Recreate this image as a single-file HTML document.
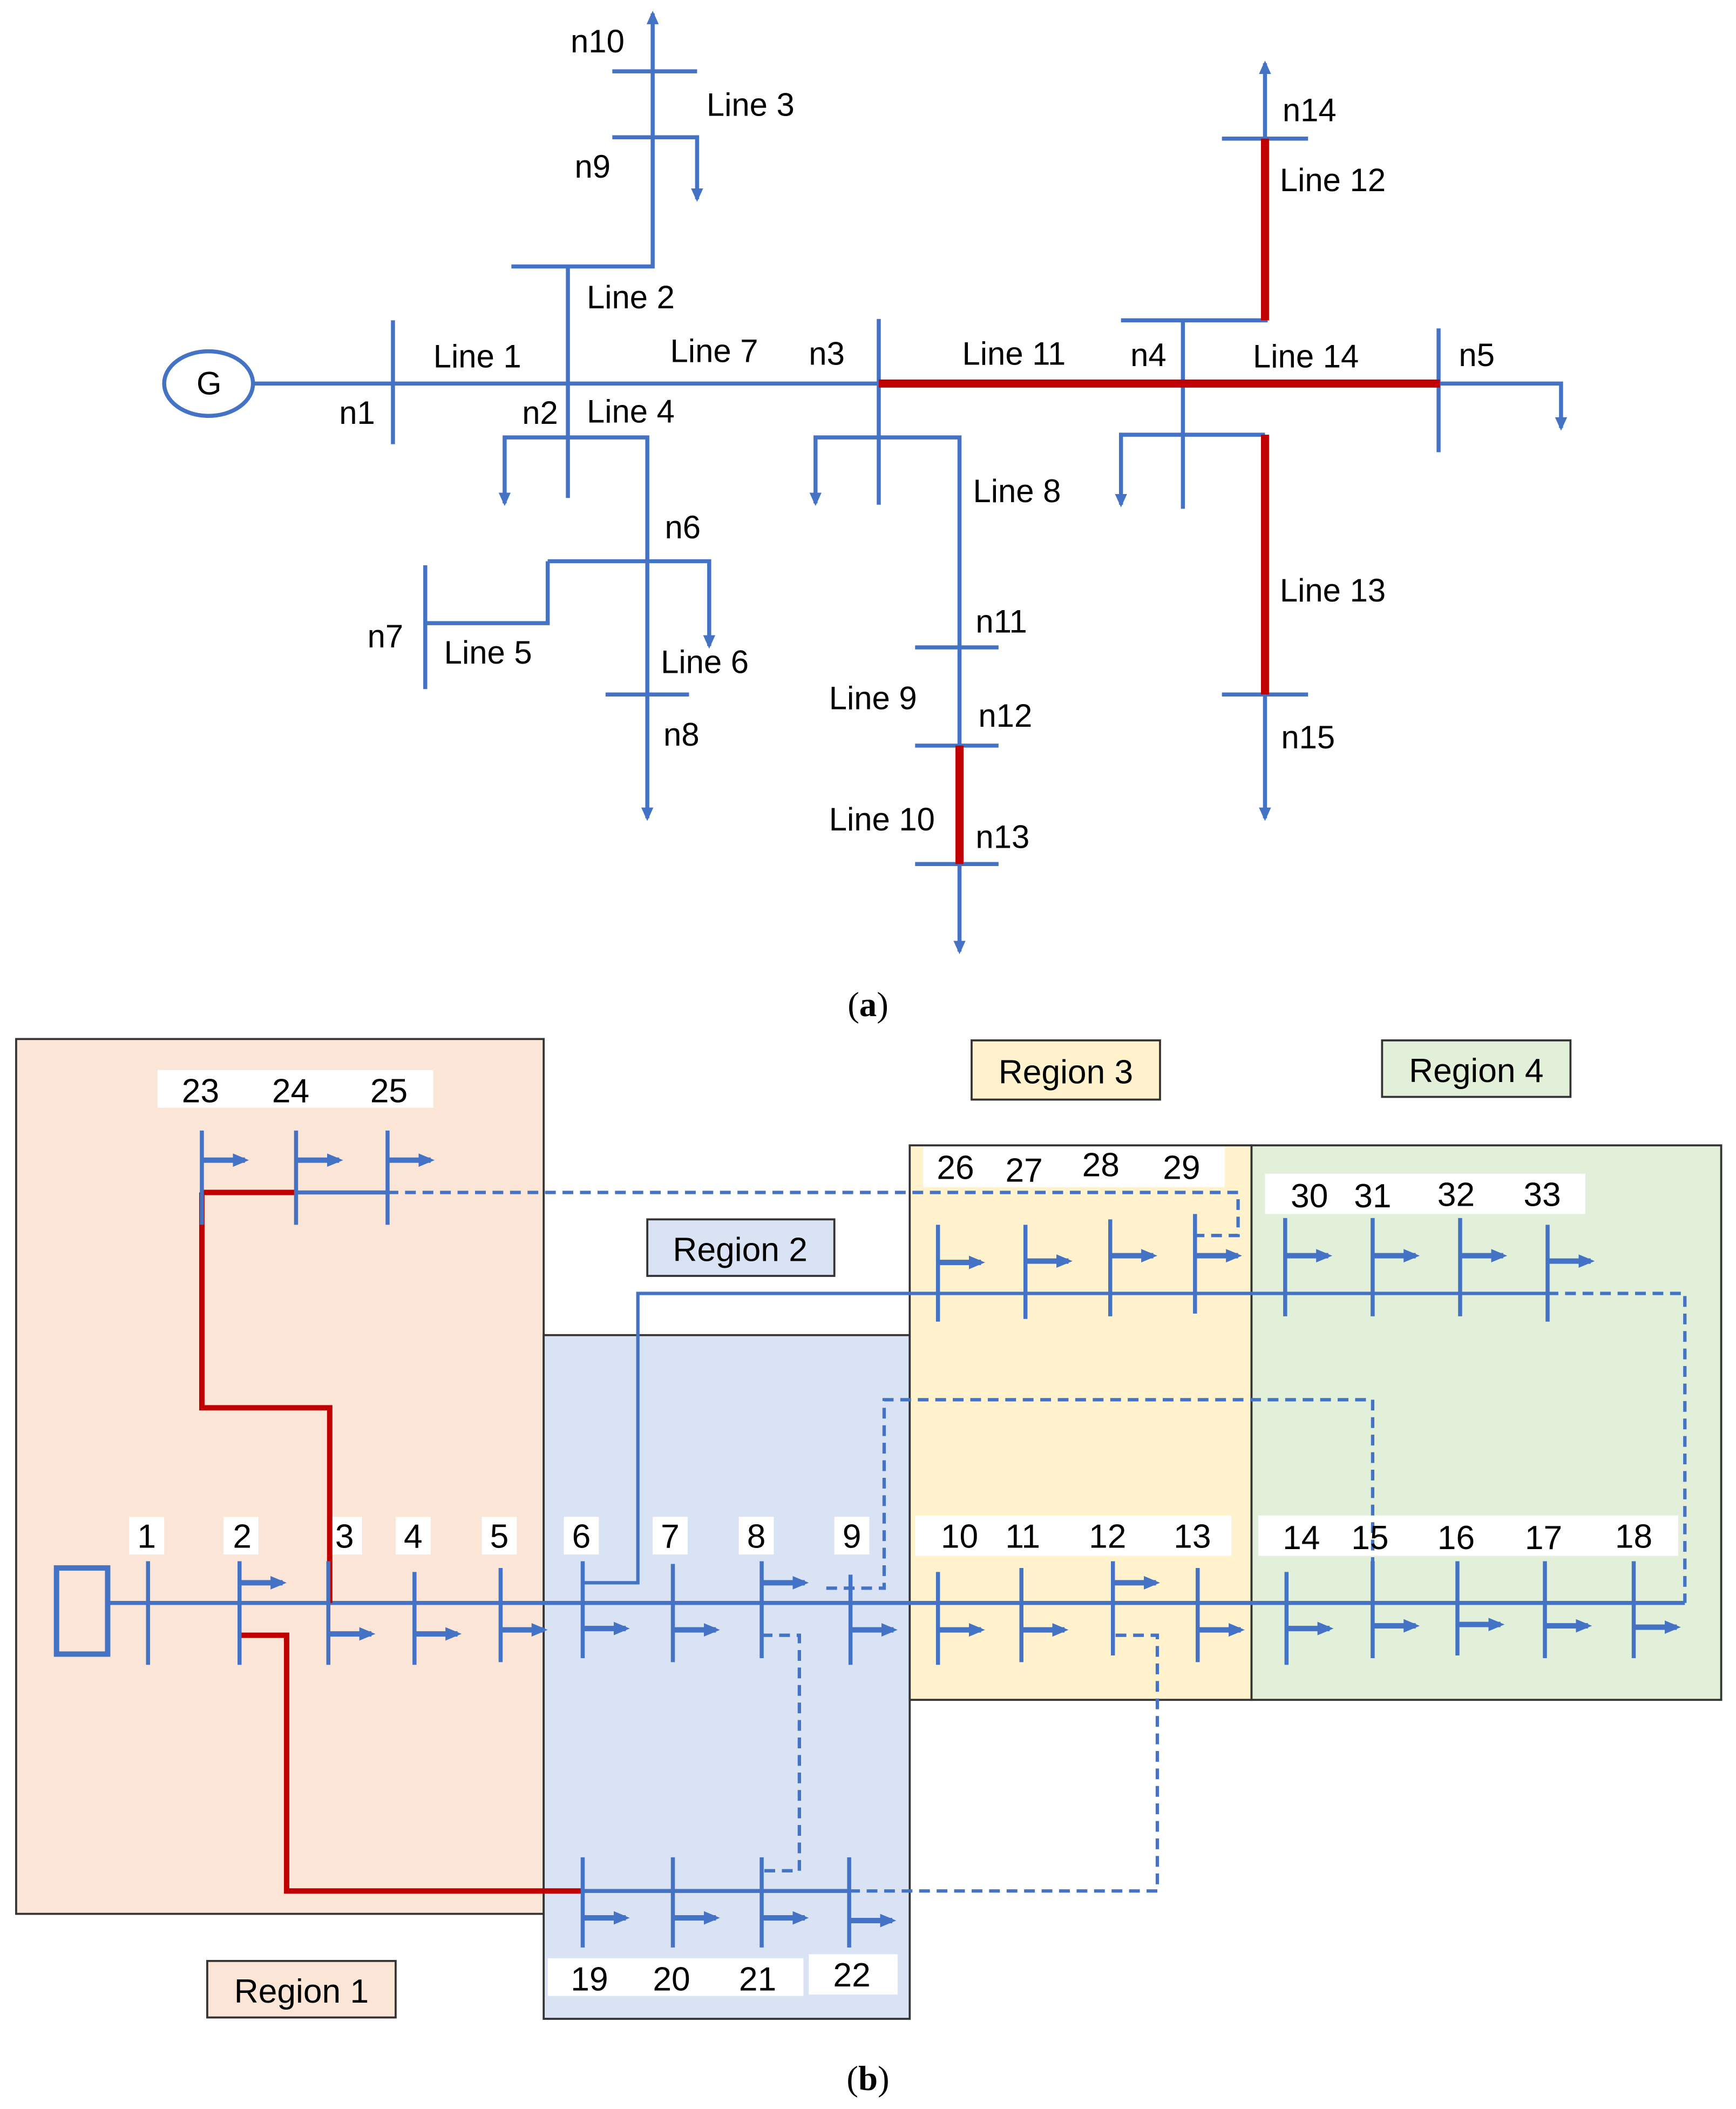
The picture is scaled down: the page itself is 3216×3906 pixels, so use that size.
<!DOCTYPE html>
<html><head><style>html,body{margin:0;padding:0;background:#fff}svg{display:block}</style></head><body>
<svg width="3216" height="3906" viewBox="0 0 1290 1567" preserveAspectRatio="none" xmlns="http://www.w3.org/2000/svg">
<defs>
<marker id="ar" markerWidth="10" markerHeight="10" refX="8" refY="5" orient="auto" markerUnits="userSpaceOnUse"><path d="M0,0.5 L10,5 L0,9.5 z" fill="#4472C4"/></marker>
<marker id="ls" markerWidth="12" markerHeight="12" refX="9" refY="6" orient="auto" markerUnits="userSpaceOnUse"><path d="M0,1 L12,6 L0,11 z" fill="#4472C4"/></marker>
</defs>
<g font-family="Liberation Sans, DejaVu Sans, sans-serif" font-size="24" fill="#000">
<!-- (a) -->
<g stroke="#4472C4" stroke-width="3" fill="none">
<ellipse cx="155" cy="285" rx="33" ry="24"/>
<line x1="188" y1="285" x2="653" y2="285"/>
<polyline points="1070,285 1160,285 1160,318" marker-end="url(#ar)"/>
<line x1="292" y1="238" x2="292" y2="330"/>
<line x1="422" y1="198" x2="422" y2="370"/>
<polyline points="380,198 485,198 485,10" marker-end="url(#ar)"/>
<line x1="455" y1="53" x2="518" y2="53"/>
<line x1="455" y1="102" x2="518" y2="102"/>
<polyline points="485,102 518,102 518,148" marker-end="url(#ar)"/>
<polyline points="422,325 375,325 375,374" marker-end="url(#ar)"/>
<polyline points="422,325 481,325 481,608" marker-end="url(#ar)"/>
<polyline points="407,417 527,417 527,480" marker-end="url(#ar)"/>
<polyline points="407,417 407,463 316,463"/>
<line x1="316" y1="420" x2="316" y2="512"/>
<line x1="450" y1="516" x2="512" y2="516"/>
<line x1="653" y1="237" x2="653" y2="375"/>
<polyline points="653,325 606,325 606,374" marker-end="url(#ar)"/>
<polyline points="653,325 713,325 713,707" marker-end="url(#ar)"/>
<line x1="680" y1="481" x2="742" y2="481"/>
<line x1="680" y1="554" x2="742" y2="554"/>
<line x1="680" y1="642" x2="742" y2="642"/>
<line x1="879" y1="237" x2="879" y2="378"/>
<line x1="833" y1="238" x2="942" y2="238"/>
<line x1="908" y1="103" x2="972" y2="103"/>
<polyline points="940,103 940,47" marker-end="url(#ar)"/>
<polyline points="879,323 833,323 833,375" marker-end="url(#ar)"/>
<line x1="879" y1="323" x2="940" y2="323"/>
<line x1="908" y1="516" x2="972" y2="516"/>
<polyline points="940,516 940,608" marker-end="url(#ar)"/>
<line x1="1069" y1="244" x2="1069" y2="336"/>
</g>
<g stroke="#C00000" stroke-width="6" fill="none">
<line x1="653" y1="285" x2="1070" y2="285"/>
<line x1="713" y1="554" x2="713" y2="642"/>
<line x1="940" y1="238" x2="940" y2="103"/>
<line x1="940" y1="323" x2="940" y2="516"/>
</g>
<text x="146" y="293">G</text>
<text x="424" y="39">n10</text><text x="525" y="86">Line 3</text><text x="427" y="132">n9</text>
<text x="436" y="229">Line 2</text><text x="322" y="273">Line 1</text><text x="252" y="315">n1</text>
<text x="388" y="315">n2</text><text x="436" y="314">Line 4</text><text x="498" y="269">Line 7</text>
<text x="601" y="271">n3</text><text x="715" y="271">Line 11</text><text x="840" y="272">n4</text>
<text x="931" y="273">Line 14</text><text x="1084" y="272">n5</text><text x="953" y="90">n14</text>
<text x="951" y="142">Line 12</text><text x="494" y="400">n6</text><text x="273" y="481">n7</text>
<text x="330" y="493">Line 5</text><text x="491" y="500">Line 6</text><text x="493" y="554">n8</text>
<text x="723" y="373">Line 8</text><text x="725" y="470">n11</text><text x="616" y="527">Line 9</text>
<text x="727" y="540">n12</text><text x="616" y="617">Line 10</text><text x="725" y="630">n13</text>
<text x="951" y="447">Line 13</text><text x="952" y="556">n15</text>
<text x="645" y="755" text-anchor="middle" font-family="Liberation Serif, serif" font-size="26">(<tspan font-weight="bold">a</tspan>)</text>

<!-- (b) regions -->
<g stroke="#333" stroke-width="1.5">
<rect x="12" y="772" width="392" height="650" fill="#FBE5D6"/>
<rect x="404" y="992" width="272" height="508" fill="#DAE3F3"/>
<rect x="676" y="851" width="254" height="412" fill="#FFF2CC"/>
<rect x="930" y="851" width="349" height="412" fill="#E2F0D9"/>
<rect x="722" y="773" width="140" height="44" fill="#FFF2CC"/>
<rect x="1027" y="773" width="140" height="42" fill="#E2F0D9"/>
<rect x="481" y="906" width="139" height="42" fill="#DAE3F3"/>
<rect x="154" y="1457" width="140" height="42" fill="#FBE5D6"/>
</g>
<text x="792" y="805" text-anchor="middle" font-size="25">Region 3</text>
<text x="1097" y="804" text-anchor="middle" font-size="25">Region 4</text>
<text x="550" y="937" text-anchor="middle" font-size="25">Region 2</text>
<text x="224" y="1488" text-anchor="middle" font-size="25">Region 1</text>
<g fill="#fff">
<rect x="117" y="795" width="205" height="28"/>
<rect x="686" y="852" width="224" height="30"/>
<rect x="940" y="872" width="238" height="30"/>
<rect x="96" y="1127" width="26" height="28"/><rect x="166" y="1127" width="26" height="28"/>
<rect x="243" y="1127" width="26" height="28"/><rect x="294" y="1127" width="26" height="28"/>
<rect x="358" y="1127" width="26" height="28"/><rect x="419" y="1127" width="26" height="28"/>
<rect x="485" y="1127" width="26" height="28"/><rect x="549" y="1127" width="26" height="28"/>
<rect x="620" y="1127" width="26" height="28"/>
<rect x="680" y="1126" width="235" height="30"/>
<rect x="935" y="1126" width="312" height="30"/>
<rect x="407" y="1455" width="190" height="28"/><rect x="601" y="1452" width="66" height="30"/>
</g>
<g stroke="#4472C4" stroke-width="3" fill="none">
<rect x="42" y="1165" width="38" height="64" stroke-width="4"/>
<line x1="81" y1="1191" x2="1252" y2="1191"/>
<line x1="220" y1="886" x2="288" y2="886"/>
<line x1="433" y1="1405" x2="631" y2="1405"/>
<polyline points="433,1176 474,1176 474,961 1150,961" stroke-width="2.5"/>
</g>
<g stroke="#4472C4" stroke-width="2.5" fill="none" stroke-dasharray="8,5">
<polyline points="1150,961 1252,961 1252,1191"/>
<polyline points="288,886 920,886 920,918 888,918"/>
<polyline points="631,1405 860,1405 860,1215 827,1215"/>
<polyline points="566,1215 594,1215 594,1390 566,1390"/>
<polyline points="614,1180 657,1180 657,1040 1020,1040 1020,1191"/>
</g>
<g stroke="#C00000" stroke-width="4" fill="none">
<line x1="150" y1="886" x2="220" y2="886"/>
<polyline points="150,886 150,1046 245,1046 245,1191"/>
<polyline points="178,1215 213,1215 213,1405 433,1405"/>
</g>
<g stroke="#4472C4" stroke-width="3" fill="none">
<line x1="110" y1="1160" x2="110" y2="1237"/>
<line x1="178" y1="1160" x2="178" y2="1237"/>
<line x1="244" y1="1160" x2="244" y2="1237"/>
<line x1="308" y1="1168" x2="308" y2="1237"/>
<line x1="372" y1="1165" x2="372" y2="1235"/>
<line x1="433" y1="1160" x2="433" y2="1232"/>
<line x1="500" y1="1162" x2="500" y2="1235"/>
<line x1="566" y1="1160" x2="566" y2="1232"/>
<line x1="632" y1="1170" x2="632" y2="1237"/>
<line x1="697" y1="1168" x2="697" y2="1237"/>
<line x1="759" y1="1165" x2="759" y2="1235"/>
<line x1="827" y1="1160" x2="827" y2="1230"/>
<line x1="890" y1="1165" x2="890" y2="1235"/>
<line x1="956" y1="1168" x2="956" y2="1237"/>
<line x1="1020" y1="1160" x2="1020" y2="1232"/>
<line x1="1083" y1="1160" x2="1083" y2="1230"/>
<line x1="1148" y1="1160" x2="1148" y2="1232"/>
<line x1="1214" y1="1160" x2="1214" y2="1232"/>
<line x1="150" y1="840" x2="150" y2="910"/>
<line x1="220" y1="840" x2="220" y2="910"/>
<line x1="288" y1="840" x2="288" y2="910"/>
<line x1="433" y1="1380" x2="433" y2="1447"/>
<line x1="500" y1="1380" x2="500" y2="1447"/>
<line x1="566" y1="1380" x2="566" y2="1447"/>
<line x1="631" y1="1380" x2="631" y2="1447"/>
<line x1="697" y1="910" x2="697" y2="982"/>
<line x1="762" y1="910" x2="762" y2="980"/>
<line x1="825" y1="906" x2="825" y2="978"/>
<line x1="888" y1="902" x2="888" y2="976"/>
<line x1="955" y1="905" x2="955" y2="978"/>
<line x1="1020" y1="905" x2="1020" y2="978"/>
<line x1="1085" y1="905" x2="1085" y2="978"/>
<line x1="1150" y1="910" x2="1150" y2="982"/>
</g>
<g stroke="#4472C4" stroke-width="4" fill="none" marker-end="url(#ls)">
<line x1="178" y1="1176" x2="210" y2="1176"/>
<line x1="244" y1="1214" x2="276" y2="1214"/>
<line x1="308" y1="1214" x2="340" y2="1214"/>
<line x1="372" y1="1211" x2="404" y2="1211"/>
<line x1="433" y1="1210" x2="465" y2="1210"/>
<line x1="500" y1="1211" x2="532" y2="1211"/>
<line x1="566" y1="1176" x2="598" y2="1176"/>
<line x1="632" y1="1211" x2="664" y2="1211"/>
<line x1="697" y1="1211" x2="729" y2="1211"/>
<line x1="759" y1="1211" x2="791" y2="1211"/>
<line x1="827" y1="1176" x2="859" y2="1176"/>
<line x1="890" y1="1211" x2="922" y2="1211"/>
<line x1="956" y1="1210" x2="988" y2="1210"/>
<line x1="1020" y1="1208" x2="1052" y2="1208"/>
<line x1="1083" y1="1207" x2="1115" y2="1207"/>
<line x1="1148" y1="1208" x2="1180" y2="1208"/>
<line x1="1214" y1="1209" x2="1246" y2="1209"/>
<line x1="150" y1="862" x2="182" y2="862"/>
<line x1="220" y1="862" x2="252" y2="862"/>
<line x1="288" y1="862" x2="320" y2="862"/>
<line x1="433" y1="1425" x2="465" y2="1425"/>
<line x1="500" y1="1425" x2="532" y2="1425"/>
<line x1="566" y1="1425" x2="598" y2="1425"/>
<line x1="631" y1="1427" x2="663" y2="1427"/>
<line x1="697" y1="938" x2="729" y2="938"/>
<line x1="762" y1="937" x2="794" y2="937"/>
<line x1="825" y1="933" x2="857" y2="933"/>
<line x1="888" y1="933" x2="920" y2="933"/>
<line x1="955" y1="933" x2="987" y2="933"/>
<line x1="1020" y1="933" x2="1052" y2="933"/>
<line x1="1085" y1="933" x2="1117" y2="933"/>
<line x1="1150" y1="937" x2="1182" y2="937"/>
</g>
<g font-size="25" text-anchor="middle">
<text x="149" y="819">23</text><text x="216" y="819">24</text><text x="289" y="819">25</text>
<text x="710" y="876">26</text><text x="761" y="878">27</text><text x="818" y="874">28</text><text x="878" y="876">29</text>
<text x="973" y="897">30</text><text x="1020" y="897">31</text><text x="1082" y="896">32</text><text x="1146" y="896">33</text>
<text x="109" y="1150">1</text><text x="180" y="1150">2</text><text x="256" y="1150">3</text><text x="307" y="1150">4</text>
<text x="371" y="1150">5</text><text x="432" y="1150">6</text><text x="498" y="1150">7</text><text x="562" y="1150">8</text>
<text x="633" y="1150">9</text><text x="713" y="1150">10</text><text x="760" y="1150">11</text><text x="823" y="1150">12</text>
<text x="886" y="1150">13</text><text x="967" y="1151">14</text><text x="1018" y="1151">15</text><text x="1082" y="1151">16</text>
<text x="1147" y="1151">17</text><text x="1214" y="1150">18</text>
<text x="438" y="1479">19</text><text x="499" y="1479">20</text><text x="563" y="1479">21</text><text x="633" y="1476">22</text>
</g>
<text x="645" y="1553" text-anchor="middle" font-family="Liberation Serif, serif" font-size="26">(<tspan font-weight="bold">b</tspan>)</text>
</g>
</svg>
</body></html>
